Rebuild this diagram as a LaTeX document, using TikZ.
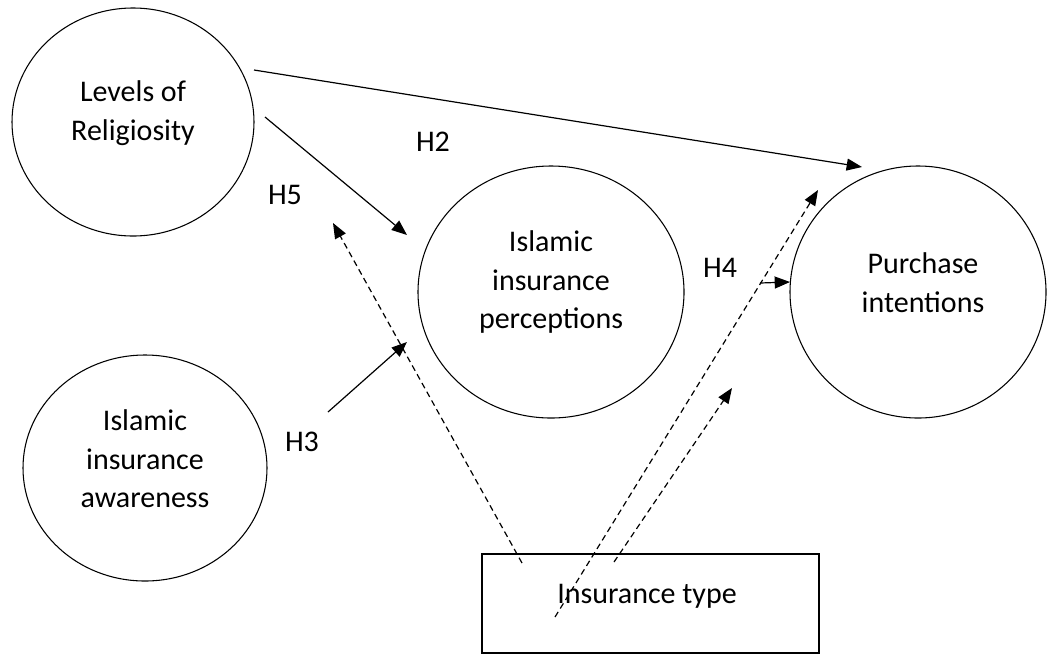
\documentclass[tikz,border=0pt]{standalone}
\usepackage{fontspec}
\setmainfont{Carlito}
\usetikzlibrary{shapes.geometric,arrows.meta}
\begin{document}
\begin{tikzpicture}[x=0.75pt,y=-0.75pt,
  circ/.style={draw, ellipse, line width=0.8pt, inner sep=0pt},
  lbl/.style={font=\fontsize{22.5}{29}\selectfont, align=center, inner sep=0pt},
  hyp/.style={font=\fontsize{22.5}{29}\selectfont, inner sep=0pt},
  arr/.style={line width=0.9pt, -{Triangle[length=11.5pt,width=9pt]}},
  darr/.style={arr, dash pattern=on 4.5pt off 3pt}]
\useasboundingbox (0,0) rectangle (1048,654);
% ellipses
\node[circ, minimum width=181.5pt, minimum height=171pt] (rel) at (133,122) {};
\node[circ, minimum width=199.5pt, minimum height=189pt] (per) at (551,292) {};
\node[circ, minimum width=192pt, minimum height=189pt] (pur) at (918,292) {};
\node[circ, minimum width=183pt, minimum height=169.5pt] (awa) at (145,468) {};
\node[draw, line width=0.8pt, minimum width=252.75pt, minimum height=74.25pt, inner sep=0pt] (typ) at (650.5,603.5) {};
% texts
\node[lbl] (relt) at (133,113) {Levels of\\Religiosity};
\node[lbl] (pert) at (551,282) {Islamic\\insurance\\perceptions};
\node[lbl] (purt) at (923,283) {Purchase\\intentions};
\node[lbl] (awat) at (145,459) {Islamic\\insurance\\awareness};
\node[lbl] (typt) at (647,596) {Insurance type};
\node[hyp] (h2) at (433,142) {H2};
\node[hyp] (h5) at (285,195) {H5};
\node[hyp] (h4) at (720,268) {H4};
\node[hyp] (h3) at (302,442) {H3};
% connector end points
\coordinate (a1) at (254,70);
\coordinate (a2) at (862,167);
\coordinate (b1) at (265,117);
\coordinate (b2) at (407,235);
\coordinate (c1) at (328,412);
\coordinate (c2) at (407,342);
\coordinate (d1) at (760,283);
\coordinate (d2) at (790,282);
\coordinate (e1) at (522,563);
\coordinate (e2) at (333,223);
\coordinate (f1) at (555,617);
\coordinate (f2) at (818,190);
\coordinate (g1) at (614,562);
\coordinate (g2) at (732,388);
% connectors
\draw[arr] (a1) -- (a2);
\draw[arr] (b1) -- (b2);
\draw[arr] (c1) -- (c2);
\draw[arr] (d1) -- (d2);
\draw[darr] (e1) -- (e2);
\draw[darr] (f1) -- (f2);
\draw[darr] (g1) -- (g2);
\end{tikzpicture}
\end{document}
